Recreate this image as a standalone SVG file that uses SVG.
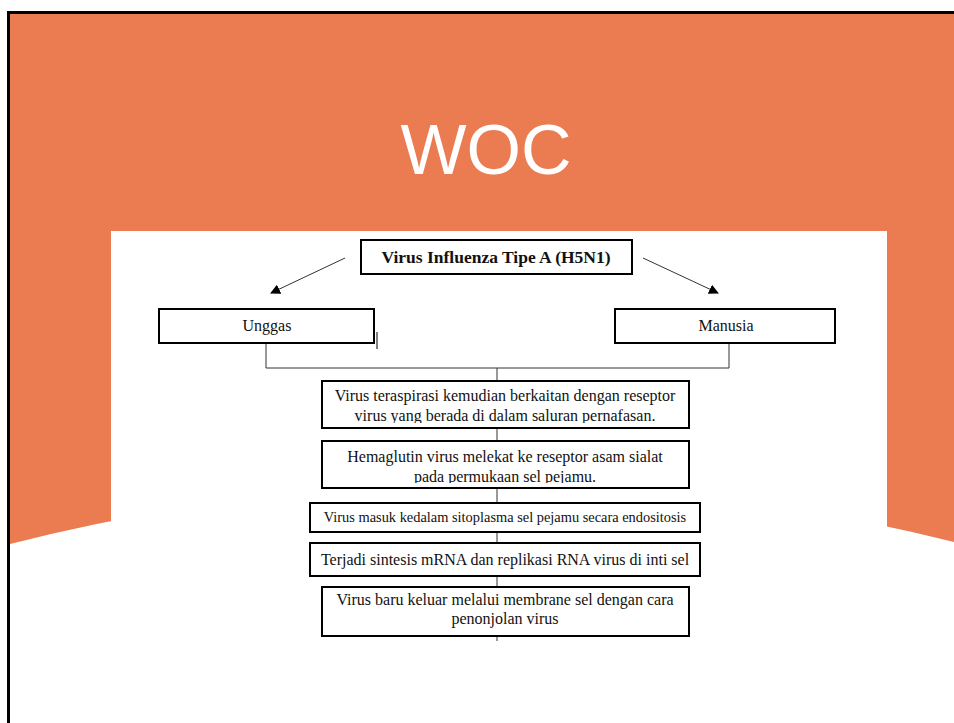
<svg xmlns="http://www.w3.org/2000/svg" width="954" height="723" viewBox="0 0 954 723">
<style>
.box{fill:#fff;stroke:#000;stroke-width:2}
.t{fill:#111;text-anchor:middle}
.ln{stroke:#333;stroke-width:1;fill:none}
</style>
<defs>
<marker id="ah" viewBox="0 0 10 10" refX="9" refY="5" markerWidth="10" markerHeight="10" markerUnits="userSpaceOnUse" orient="auto">
<path d="M0,0 L10,5 L0,10 z" fill="#000"/>
</marker>
<clipPath id="c1"><rect x="322" y="381" width="367" height="42"/></clipPath>
<clipPath id="c2"><rect x="322" y="441" width="367" height="42"/></clipPath>
</defs>
<rect x="0" y="0" width="954" height="723" fill="#fff"/>
<path d="M10,14 H954 V542 Q482,424 10,544 Z" fill="#EB7B51"/>
<path d="M8.5,723 V12.5 H954" fill="none" stroke="#000" stroke-width="3"/>
<text x="486" y="174" font-family="Liberation Sans, Arial, sans-serif" font-size="70" fill="#fff" text-anchor="middle">WOC</text>
<rect x="111" y="231" width="776" height="492" fill="#fff"/>
<g id="connectors">
<line class="ln" x1="345" y1="258" x2="271" y2="293" marker-end="url(#ah)"/>
<line class="ln" x1="643" y1="258" x2="718" y2="293" marker-end="url(#ah)"/>
<path class="ln" d="M266,343 V368 H729 V343"/>
<line class="ln" x1="497" y1="368" x2="497" y2="641"/>
<line x1="377" y1="332" x2="377" y2="349" stroke="#000" stroke-width="1"/>
</g>
<g font-family="Liberation Serif, Times New Roman, serif">
<g id="n0"><rect class="box" x="361" y="240" width="271" height="34"/><text class="t" x="496" y="263" font-size="17.5" font-weight="bold">Virus Influenza Tipe A (H5N1)</text></g>
<g id="n1"><rect class="box" x="159" y="309" width="215" height="34"/><text class="t" x="267" y="331" font-size="16">Unggas</text></g>
<g id="n2"><rect class="box" x="615" y="309" width="220" height="34"/><text class="t" x="726" y="331" font-size="16">Manusia</text></g>
<g id="n3"><rect class="box" x="322" y="381" width="367" height="47"/><g clip-path="url(#c1)"><text class="t" x="505" y="401" font-size="16">Virus teraspirasi kemudian berkaitan dengan reseptor</text><text class="t" x="505" y="421" font-size="16">virus yang berada di dalam saluran pernafasan.</text></g></g>
<g id="n4"><rect class="box" x="322" y="441" width="367" height="47"/><g clip-path="url(#c2)"><text class="t" x="505" y="462" font-size="16">Hemaglutin virus melekat ke reseptor asam sialat</text><text class="t" x="505" y="482" font-size="16">pada permukaan sel pejamu.</text></g></g>
<g id="n5"><rect class="box" x="310" y="503" width="390" height="29"/><text class="t" x="505" y="522" font-size="14.4">Virus masuk kedalam sitoplasma sel pejamu secara endositosis</text></g>
<g id="n6"><rect class="box" x="310" y="543" width="390" height="33"/><text class="t" x="505" y="565" font-size="16">Terjadi sintesis mRNA dan replikasi RNA virus di inti sel</text></g>
<g id="n7"><rect class="box" x="322" y="587" width="367" height="49"/><text class="t" x="505" y="605" font-size="16">Virus baru keluar melalui membrane sel dengan cara</text><text class="t" x="505" y="624" font-size="16">penonjolan virus</text></g>
</g>
</svg>
